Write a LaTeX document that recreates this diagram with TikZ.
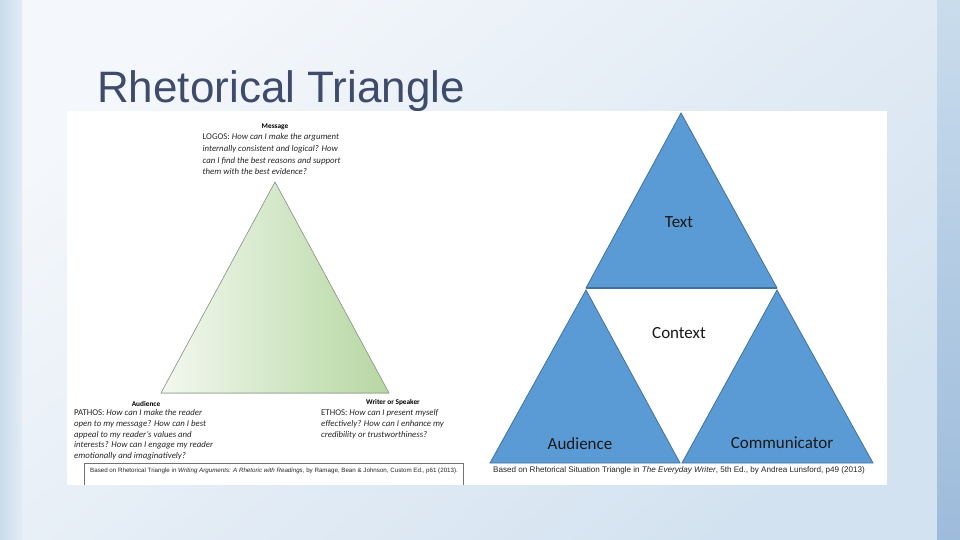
\documentclass[tikz,border=0pt]{standalone}
\usepackage{fontspec}
\setmainfont{Carlito}
\newfontfamily\arialfont{Liberation Sans}
\definecolor{panelA}{HTML}{F4F7FB}
\definecolor{panelB}{HTML}{D3E2F0}
\definecolor{sideL}{HTML}{C8DBEC}
\definecolor{sideRa}{HTML}{C9DCEC}
\definecolor{sideRb}{HTML}{9DBBDB}
\definecolor{titlecol}{HTML}{3F4B6B}
\definecolor{greenL}{HTML}{F3F8F0}
\definecolor{greenR}{HTML}{B6D7A2}
\definecolor{greenEdge}{HTML}{8E9E8C}
\definecolor{triblue}{HTML}{5B9BD5}
\definecolor{triedge}{HTML}{41719C}
\tikzset{
  tri/.style={fill=triblue, draw=triedge, line width=0.8pt, line join=miter},
  smalltxt/.style={inner sep=0pt, align=left, anchor=north west, text=black!85},
  headtxt/.style={inner sep=0pt, font=\fontsize{7.3}{8}\selectfont\bfseries, text=black},
  biglabel/.style={inner sep=0pt, font=\fontsize{17}{20}\selectfont, text=black!90},
  citetxt/.style={inner sep=0pt, text=black!85}
}
\begin{document}
\begin{tikzpicture}[x=1pt,y=-1pt]
\useasboundingbox (0,0) rectangle (960,540);
% background
\shade[top color=panelA, bottom color=panelB, shading angle=40] (0,0) rectangle (960,540);
\shade[left color=sideL, right color=panelA!60!sideL] (0,0) rectangle (22,540);
\shade[top color=sideRa, bottom color=sideRb] (937,0) rectangle (960,540);
% title
\node[inner sep=0pt, anchor=base west, text=titlecol, font=\arialfont\fontsize{44}{48}\selectfont] (title) at (97,103) {Rhetorical Triangle};
% white image area
\fill[white] (67,111) rectangle (887,485);

% ---------- left diagram ----------
\coordinate (LA) at (275,182);
\coordinate (LB) at (161,393);
\coordinate (LC) at (389,393);
\filldraw[draw=greenEdge, line width=0.6pt, left color=greenL, right color=greenR] (LA) -- (LB) -- (LC) -- cycle;

\node[headtxt] (msg) at (275,127) {Message};
\node[smalltxt, font=\fontsize{8.8}{11.6}\selectfont] (logos) at (202.5,133.5)
  {LOGOS: \textit{How can I make the argument}\\
   \textit{internally consistent and logical? How}\\
   \textit{can I find the best reasons and support}\\
   \textit{them with the best evidence?}};

\node[headtxt] (aud) at (146,403.5) {Audience};
\node[smalltxt, font=\fontsize{8.8}{10.6}\selectfont] (pathos) at (74,409.5)
  {PATHOS: \textit{How can I make the reader}\\
   \textit{open to my message? How can I best}\\
   \textit{appeal to my reader's values and}\\
   \textit{interests? How can I engage my reader}\\
   \textit{emotionally and imaginatively?}};

\node[headtxt] (wri) at (393,403) {Writer or Speaker};
\node[smalltxt, font=\fontsize{8.8}{10.6}\selectfont] (ethos) at (321,409.5)
  {ETHOS: \textit{How can I present myself}\\
   \textit{effectively? How can I enhance my}\\
   \textit{credibility or trustworthiness?}};

\coordinate (boxBL) at (84,485);
\coordinate (boxTL) at (84,463);
\coordinate (boxTR) at (463,463);
\coordinate (boxBR) at (463,485);
\draw[black!55, line width=0.6pt] (boxBL) -- (boxTL) -- (boxTR) -- (boxBR);
\node[citetxt, anchor=west, font=\arialfont\fontsize{6.2}{7}\selectfont] (citeL) at (90,471)
  {Based on Rhetorical Triangle in \textit{Writing Arguments: A Rhetoric with Readings}, by Ramage, Bean \& Johnson, Custom Ed., p61 (2013).};

% ---------- right diagram ----------
\coordinate (TA) at (681,113);
\coordinate (TB) at (586,288);
\coordinate (TC) at (777,288);
\coordinate (AA) at (586,290);
\coordinate (AB) at (490,463);
\coordinate (AC) at (680,463);
\coordinate (CA) at (777,290);
\coordinate (CB) at (682,463);
\coordinate (CC) at (873,463);
\draw[tri] (TA) -- (TB) -- (TC) -- cycle;
\draw[triedge, line width=1.4pt] (TB) -- (TC);
\draw[tri] (AA) -- (AB) -- (AC) -- cycle;
\draw[tri] (CA) -- (CB) -- (CC) -- cycle;

\node[biglabel] (text) at (679,222) {Text};
\node[biglabel] (context) at (679,333) {Context};
\node[biglabel] (audR) at (580,444) {Audience};
\node[biglabel] (comm) at (782,443) {Communicator};

\node[citetxt, anchor=west, font=\arialfont\fontsize{8.1}{9}\selectfont] (citeR) at (493,470)
  {Based on Rhetorical Situation Triangle in \textit{The Everyday Writer}, 5th Ed., by Andrea Lunsford, p49 (2013)};
\end{tikzpicture}
\end{document}
